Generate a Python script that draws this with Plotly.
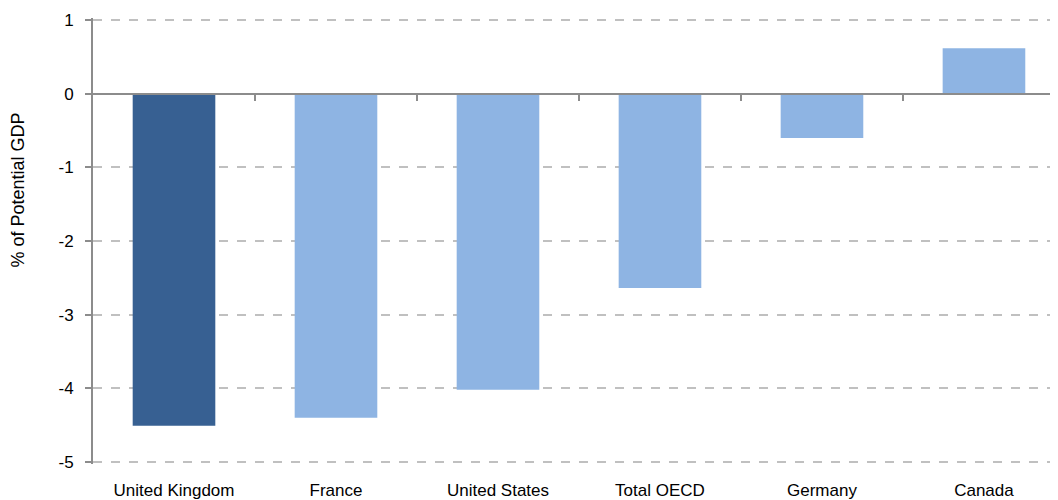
import plotly.graph_objects as go

categories = ["United Kingdom", "France", "United States", "Total OECD", "Germany", "Canada"]
values = [-4.51, -4.40, -4.02, -2.64, -0.60, 0.62]
bar_colors = ["#376092", "#8EB4E3", "#8EB4E3", "#8EB4E3", "#8EB4E3", "#8EB4E3"]
y_ticks = [1, 0, -1, -2, -3, -4, -5]
y_title = "% of Potential GDP"

FONT = "Liberation Sans Narrow, Arial Narrow, Liberation Sans, Arial, sans-serif"

fig = go.Figure()
fig.add_trace(go.Bar(
    x=list(range(len(categories))), y=values,
    marker=dict(color=bar_colors, line=dict(width=0)),
    width=0.51, hoverinfo="skip",
))

# page body has an 8px default margin; figure is sized to compensate
xr = [-0.5, 5.457]
yr = [-5.03, 1.03]
zero_frac = (0 - yr[0]) / (yr[1] - yr[0])
fig.update_layout(
    width=1050, height=492,
    margin=dict(l=85, r=0, t=10, b=36, autoexpand=False),
    plot_bgcolor="white", paper_bgcolor="white",
    showlegend=False,
    font=dict(family=FONT, size=17, color="#000000"),
    xaxis=dict(
        range=xr, tickmode="array",
        tickvals=list(range(len(categories))), ticktext=categories,
        showgrid=False, zeroline=False, showline=False, ticks="",
        tickfont=dict(size=17), automargin=False, ticklabelstandoff=14,
    ),
    xaxis2=dict(
        overlaying="x", anchor="free", position=zero_frac, range=xr,
        tickmode="array", tickvals=[0.5, 1.5, 2.5, 3.5, 4.5],
        showticklabels=False, ticks="outside", ticklen=6, tickwidth=2,
        tickcolor="#8c8c8c", showline=True, linecolor="#8c8c8c", linewidth=2,
        showgrid=False, zeroline=False,
    ),
    yaxis=dict(
        range=yr, tickvals=y_ticks, ticktext=[str(v) for v in y_ticks],
        showgrid=True, gridcolor="#c0c0c0", griddash="dash", gridwidth=1.5,
        zeroline=False, showline=True, linecolor="#8c8c8c", linewidth=2,
        ticks="outside", ticklen=6, tickwidth=2, tickcolor="#8c8c8c",
        tickfont=dict(size=17), automargin=False, ticklabelstandoff=8,
    ),
    annotations=[dict(
        text=y_title, textangle=-90, xref="paper", yref="paper",
        x=-(85 - 10) / 965, y=0.613, xanchor="center", yanchor="middle",
        showarrow=False, font=dict(size=18),
    )],
)
fig.add_trace(go.Scatter(x=[0], y=[0], xaxis="x2", mode="markers",
                         marker=dict(opacity=0), hoverinfo="skip"))
fig.write_html("out.html")
